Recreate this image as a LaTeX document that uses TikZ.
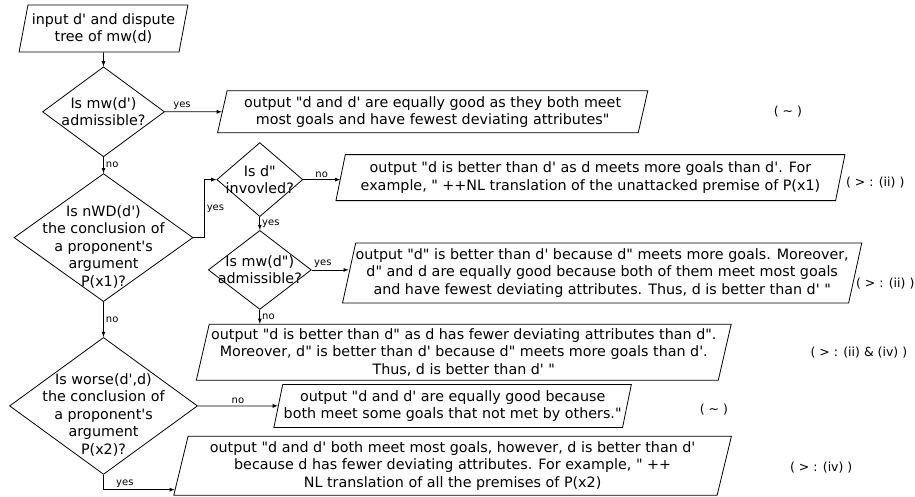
\documentclass[tikz,border=0pt]{standalone}
\usepackage{fontspec}
\newfontfamily\flowfont{DejaVu Sans}
\usepackage{tikz}
\usetikzlibrary{positioning, arrows, calc}
\usetikzlibrary{shapes,shapes.geometric}

\tikzset{
	io/.style={trapezium, trapezium left angle=76, trapezium right angle=104,
		trapezium stretches=true, draw, align=center, inner xsep=1pt, inner ysep=2pt},
	decision/.style={diamond, draw, aspect=1.35, inner sep=-20pt, align=center},
	lbl/.style={font=\flowfont\fontsize{10}{12}\selectfont, inner sep=2pt},
	verdict/.style={font=\flowfont\fontsize{12.5}{15}\selectfont, inner sep=0pt}
}

\begin{document}
\begin{tikzpicture}[x=1pt, y=1pt, >=latex, line width=0.8pt, font=\flowfont\fontsize{14.3}{17.5}\selectfont]
	\useasboundingbox (0,0) rectangle (915,-496);
	\node[io, minimum width=169pt, minimum height=47pt] (input) at (103.5,-28.5) {input d' and dispute\\tree of mw(d)};
	\node[decision, below = 14pt of input, minimum width=122pt, minimum height=90pt] (mwd) {Is mw(d')\\admissible?};
	\node[io, right = 57pt of mwd, minimum width=431pt, minimum height=42pt] (same) {output "d and d' are equally good as they both meet\\most goals and have fewest deviating attributes"};
	\node[decision, below = 16pt of mwd, minimum width=179pt, minimum height=128pt, text height=99pt] (nwd) {Is nWD(d')\\the conclusion of\\a proponent's\\argument\\P(x1)?};
	\node[decision, right = 23pt of nwd, yshift=58pt, minimum width=86pt, minimum height=74pt] (invd) {Is d"\\invovled?};
	\node[io, right = 37pt of invd, yshift=2pt, minimum width=512pt, minimum height=46pt] (better1) {output "d is better than d' as d meets more goals than d'. For\\example, " ++NL translation of the unattacked premise of P(x1)};
	\node[decision, below = 13pt of invd, minimum width=103pt, minimum height=79pt] (mwdd) {Is mw(d")\\admissible?};
	\node[io, right = 37pt of mwdd, yshift=-3pt, minimum width=522pt, minimum height=60pt] (better2) {output "d" is better than d' because d" meets more goals. Moreover,\\d" and d are equally good because both of them meet most goals\\and have fewest deviating attributes. Thus, d is better than d' "};
	\node[io, below = 14pt of mwdd, xshift=204pt, minimum width=539pt, minimum height=56pt] (better3) {output "d is better than d" as d has fewer deviating attributes than d".\\Moreover, d" is better than d' because d" meets more goals than d'.\\Thus, d is better than d' "};
	\node[decision, below = 35pt of nwd, minimum width=188pt, minimum height=137pt, text height=99pt] (worse) {Is worse(d',d)\\the conclusion of\\a proponent's\\argument\\P(x2)?};
	\node[io, right = 80pt of worse, minimum width=358pt, minimum height=43pt] (equal) {output "d and d' are equally good because\\both meet some goals that not met by others."};
	\node[io, below = 8pt of equal, minimum width=560pt, minimum height=59pt] (better4) {output "d and d' both meet most goals, however, d is better than d'\\because d has fewer deviating attributes. For example, " ++\\NL translation of all the premises of P(x2)};

	\node[verdict, right = 130pt of same] (sim1) {( \textasciitilde{} )};
	\node[verdict, right = 5pt of better1, yshift=-5pt] (gt1) {( > : (ii) )};
	\node[verdict, right = 0pt of better2, yshift=-11pt] (gt2) {( > : (ii) )};
	\node[verdict, right = 85pt of better3] (gt3) {( > : (ii) \& (iv) )};
	\node[verdict, right = 72pt of equal, yshift=-4pt] (sim2) {( \textasciitilde{} )};
	\node[verdict, right = 65pt of better4, yshift=-2pt] (gt4) {( > : (iv) )};

	\draw[->] (input) -- (mwd);
	\draw[->] (mwd) -- node[lbl, pos=0.3, above] {yes} (same);
	\draw[->] (mwd) -- node[lbl, right] {no} (nwd);
	\draw[->] (nwd.east) -- ++(11pt,0) |- node[lbl, pos=0.25, right] {yes} (invd.west);
	\draw[->] (invd.east) -- node[lbl, above] {no} (invd.east -| better1.west);
	\draw[->] (invd) -- node[lbl, right] {yes} (mwdd);
	\draw[->] (mwdd.east) -- node[lbl, pos=0.3, above] {yes} (mwdd.east -| better2.west);
	\draw[->] (mwdd.south) -- node[lbl, right] {no} (mwdd.south |- better3.north);
	\draw[->] (nwd) -- node[lbl, right] {no} (worse);
	\draw[->] (worse) -- node[lbl, above] {no} (equal);
	\draw[->] (worse.south) |- node[lbl, pos=0.65, above] {yes} ($(better4.bottom left corner)!0.1!(better4.top left corner)$);
\end{tikzpicture}
\end{document}
